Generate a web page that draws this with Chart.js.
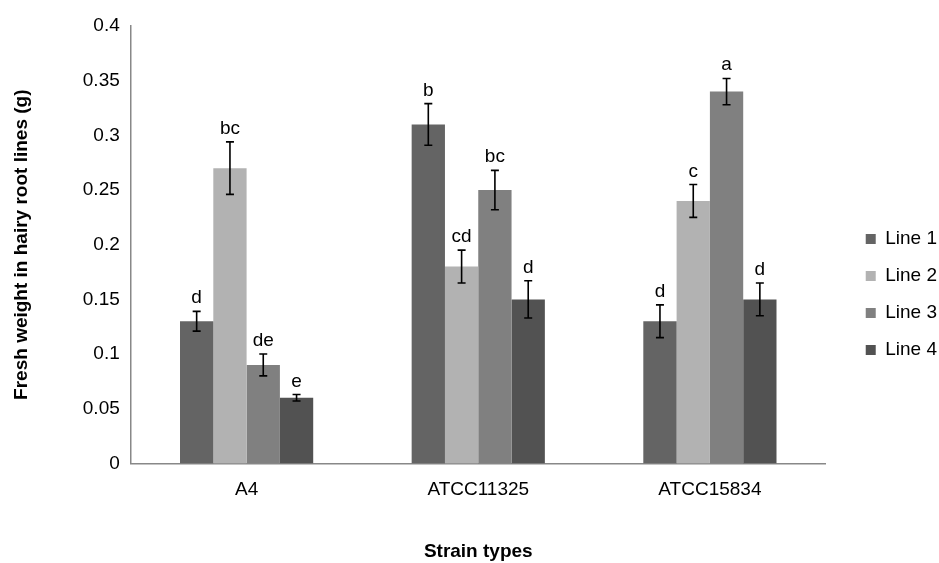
<!DOCTYPE html>
<html>
<head>
<meta charset="utf-8">
<script src="https://cdn.jsdelivr.net/npm/chart.js@4.4.0/dist/chart.umd.min.js"></script>
<style>
  html, body { margin: 0; padding: 0; background: #fff; }
  #wrap { width: 939px; height: 563px; }
</style>
</head>
<body>
<div id="wrap"><canvas id="grafico"></canvas></div>
<script>
// dados
var categorias = ['A4', 'ATCC11325', 'ATCC15834'];
var nomesSeries = ['Line 1', 'Line 2', 'Line 3', 'Line 4'];
var line1 = [0.13, 0.31, 0.13];
var line2 = [0.27, 0.18, 0.24];
var line3 = [0.09, 0.25, 0.34];
var line4 = [0.06, 0.15, 0.15];
var erro1 = [0.009, 0.019, 0.015];
var erro2 = [0.024, 0.015, 0.015];
var erro3 = [0.010, 0.018, 0.012];
var erro4 = [0.003, 0.017, 0.015];
var letras1 = ['d', 'b', 'd'];
var letras2 = ['bc', 'cd', 'c'];
var letras3 = ['de', 'bc', 'a'];
var letras4 = ['e', 'd', 'd'];

var cores = ['#646464', '#b2b2b2', '#808080', '#525252'];
var valores = [line1, line2, line3, line4];
var erros = [erro1, erro2, erro3, erro4];
var letras = [letras1, letras2, letras3, letras4];

var fonte = 'Arial, "Liberation Sans", sans-serif';
var tam = 19;

// barras de erro e letras por cima
var errorBars = {
    id: 'errorBars',
    afterDatasetsDraw: function(chart) {
        var ctx = chart.ctx;
        var y = chart.scales.y;
        ctx.save();
        chart.data.datasets.forEach(function(ds, i) {
            var meta = chart.getDatasetMeta(i);
            meta.data.forEach(function(bar, j) {
                var v = ds.data[j];
                var e = erros[i][j];
                var top = y.getPixelForValue(v + e);
                var bot = y.getPixelForValue(v - e);
                ctx.strokeStyle = '#000';
                ctx.lineWidth = 1.6;
                ctx.beginPath();
                ctx.moveTo(bar.x, top);
                ctx.lineTo(bar.x, bot);
                ctx.moveTo(bar.x - 4, top);
                ctx.lineTo(bar.x + 4, top);
                ctx.moveTo(bar.x - 4, bot);
                ctx.lineTo(bar.x + 4, bot);
                ctx.stroke();
                ctx.fillStyle = '#000';
                ctx.font = tam + 'px ' + fonte;
                ctx.textAlign = 'center';
                ctx.textBaseline = 'alphabetic';
                ctx.fillText(letras[i][j], bar.x, top - 8);
            });
        });
        ctx.restore();
    }
};

var datasets = [];
for (var i = 0; i < nomesSeries.length; i++) {
    datasets.push({
        label: nomesSeries[i],
        data: valores[i],
        backgroundColor: cores[i],
        borderWidth: 0,
        barPercentage: 1.0,
        categoryPercentage: 0.575
    });
}

var config = {
    type: 'bar',
    data: {
        labels: categorias,
        datasets: datasets
    },
    options: {
        responsive: true,
        maintainAspectRatio: false,
        animation: false,
        layout: {
            padding: { left: 10, right: -8, top: 26, bottom: 0 }
        },
        plugins: {
            tooltip: { enabled: false },
            legend: {
                position: 'right',
                labels: {
                    boxWidth: 10,
                    boxHeight: 10,
                    padding: 18,
                    color: '#000',
                    font: { family: fonte, size: tam }
                }
            }
        },
        scales: {
            x: {
                grid: { display: false, drawTicks: false },
                border: { color: '#888', width: 1.5 },
                ticks: { color: '#000', padding: 15, font: { family: fonte, size: tam } },
                title: {
                    display: true,
                    text: 'Strain types',
                    color: '#000',
                    padding: { top: 24, bottom: 0 },
                    font: { family: fonte, size: tam, weight: 'bold' }
                }
            },
            y: {
                min: 0,
                max: 0.4,
                ticks: {
                    stepSize: 0.05,
                    color: '#000',
                    padding: 6,
                    font: { family: fonte, size: tam },
                    callback: function(v) { return String(Math.round(v * 100) / 100); }
                },
                grid: { display: false, drawOnChartArea: false, drawTicks: true, tickLength: 5, tickColor: '#888' },
                border: { color: '#888', width: 1.5 },
                title: {
                    display: true,
                    text: 'Fresh weight in hairy root lines (g)',
                    color: '#000',
                    padding: { top: 0, bottom: 44 },
                    font: { family: fonte, size: tam, weight: 'bold' }
                }
            },
            // eixo vazio só para afastar a legenda da área do gráfico
            espaco: {
                position: 'right',
                display: true,
                ticks: { display: false },
                grid: { display: false, drawTicks: false },
                border: { display: false },
                afterFit: function(s) { s.width = 22; }
            }
        }
    },
    plugins: [errorBars]
};

var ctx = document.getElementById('grafico').getContext('2d');
window.graficoBarras = new Chart(ctx, config);
</script>
</body>
</html>
